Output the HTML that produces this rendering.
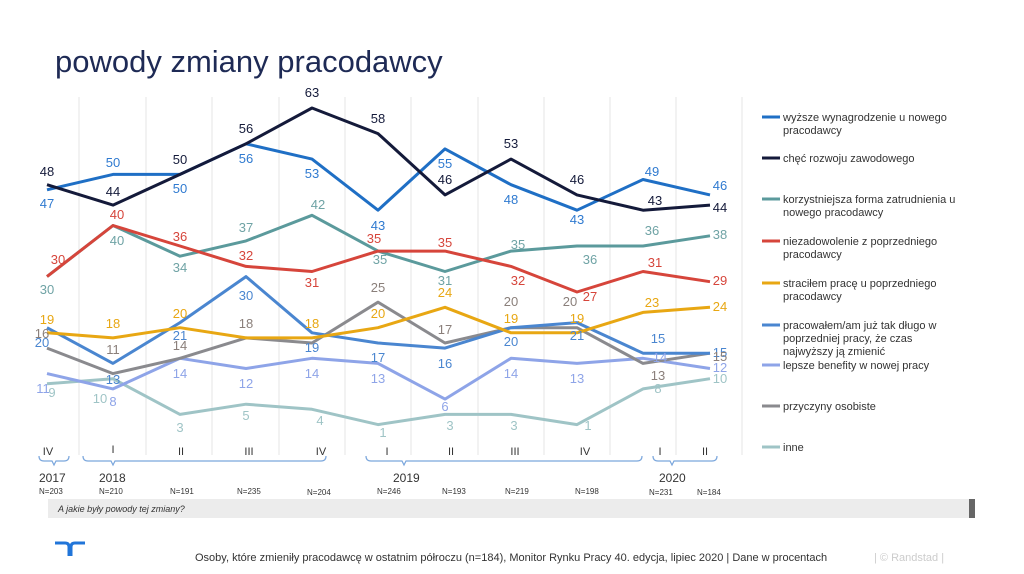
<!DOCTYPE html>
<html><head><meta charset="utf-8"><style>
body{margin:0;background:#fff;}
svg{display:block;font-family:"Liberation Sans",sans-serif;}
</style></head><body>
<svg width="1024" height="574" viewBox="0 0 1024 574">
<text x="55" y="72" font-size="31" fill="#1e2a55">powody zmiany pracodawcy</text>
<g stroke="#e6e6e6" stroke-width="1">
<line x1="79" y1="97" x2="79" y2="455"/><line x1="146" y1="97" x2="146" y2="455"/><line x1="212" y1="97" x2="212" y2="455"/><line x1="279" y1="97" x2="279" y2="455"/><line x1="345" y1="97" x2="345" y2="455"/><line x1="411" y1="97" x2="411" y2="455"/><line x1="478" y1="97" x2="478" y2="455"/><line x1="544" y1="97" x2="544" y2="455"/><line x1="610" y1="97" x2="610" y2="455"/><line x1="676" y1="97" x2="676" y2="455"/><line x1="742" y1="97" x2="742" y2="455"/>
</g>
<g fill="none" stroke-width="3" stroke-linejoin="round">
<polyline stroke="#9fc4c6" points="47,383.8 113,378.7 180,414.4 246,404.2 312,409.3 378,424.6 445,414.4 511,414.4 577,424.6 643,388.9 710,378.7"/>
<polyline stroke="#8ea4e8" points="47,373.6 113,388.9 180,358.3 246,368.5 312,358.3 378,363.4 445,399.1 511,358.3 577,363.4 643,358.3 710,368.5"/>
<polyline stroke="#8a8a8e" points="47,348.1 113,373.6 180,358.3 246,337.9 312,343 378,302.2 445,343 511,327.7 577,327.7 643,363.4 710,353.2"/>
<polyline stroke="#4a86d0" points="47,327.7 113,363.4 180,322.6 246,276.6 312,332.8 378,343 445,348.1 511,327.7 577,322.6 643,353.2 710,353.2"/>
<polyline stroke="#e8a713" points="47,332.8 113,337.9 180,327.7 246,337.9 312,337.9 378,327.7 445,307.3 511,332.8 577,332.8 643,312.4 710,307.3"/>
<polyline stroke="#5b9a9c" points="47,276.6 113,225.5 180,256.2 246,240.9 312,215.3 378,251.1 445,271.5 511,251.1 577,246 643,246 710,235.8"/>
<polyline stroke="#d6453b" points="47,276.6 113,225.5 180,246 246,266.4 312,271.5 378,251.1 445,251.1 511,266.4 577,292 643,271.5 710,281.7"/>
<polyline stroke="#1f6fc5" points="47,189.8 113,174.4 180,174.4 246,143.8 312,159.1 378,210.2 445,148.9 511,184.7 577,210.2 643,179.5 710,194.9"/>
<polyline stroke="#141a3a" points="47,184.7 113,205.1 180,174.4 246,143.8 312,108 378,133.6 445,194.9 511,159.1 577,194.9 643,210.2 710,205.1"/>
</g>
<g font-size="13" text-anchor="middle">
<g fill="#2f7ad0"><text x="47" y="208">47</text><text x="113" y="167">50</text><text x="180" y="193">50</text><text x="246" y="163">56</text><text x="312" y="178">53</text><text x="378" y="230">43</text><text x="445" y="168">55</text><text x="511" y="204">48</text><text x="577" y="224">43</text><text x="652" y="176">49</text><text x="720" y="190">46</text></g>
<g fill="#141a3a"><text x="47" y="176">48</text><text x="113" y="196">44</text><text x="180" y="164">50</text><text x="246" y="133">56</text><text x="312" y="97">63</text><text x="378" y="123">58</text><text x="445" y="184">46</text><text x="511" y="148">53</text><text x="577" y="184">46</text><text x="655" y="205">43</text><text x="720" y="212">44</text></g>
<g fill="#6fa3a5"><text x="47" y="294">30</text><text x="117" y="245">40</text><text x="180" y="272">34</text><text x="246" y="232">37</text><text x="318" y="209">42</text><text x="380" y="264">35</text><text x="445" y="285">31</text><text x="518" y="249">35</text><text x="590" y="264">36</text><text x="652" y="235">36</text><text x="720" y="239">38</text></g>
<g fill="#d6453b"><text x="58" y="264">30</text><text x="117" y="219">40</text><text x="180" y="241">36</text><text x="246" y="260">32</text><text x="312" y="287">31</text><text x="374" y="243">35</text><text x="445" y="247">35</text><text x="518" y="285">32</text><text x="590" y="301">27</text><text x="655" y="267">31</text><text x="720" y="285">29</text></g>
<g fill="#e8a713"><text x="47" y="324">19</text><text x="113" y="328">18</text><text x="180" y="318">20</text><text x="312" y="328">18</text><text x="378" y="318">20</text><text x="445" y="297">24</text><text x="511" y="323">19</text><text x="577" y="323">19</text><text x="652" y="307">23</text><text x="720" y="311">24</text></g>
<g fill="#4a86d0"><text x="42" y="347">20</text><text x="113" y="384">13</text><text x="180" y="340">21</text><text x="246" y="300">30</text><text x="312" y="352">19</text><text x="378" y="362">17</text><text x="445" y="368">16</text><text x="511" y="346">20</text><text x="577" y="340">21</text><text x="658" y="343">15</text><text x="720" y="357">15</text></g>
<g fill="#8a7f7a"><text x="42" y="338">16</text><text x="113" y="354">11</text><text x="180" y="350">14</text><text x="246" y="328">18</text><text x="378" y="292">25</text><text x="445" y="334">17</text><text x="511" y="306">20</text><text x="570" y="306">20</text><text x="658" y="380">13</text><text x="720" y="361">15</text></g>
<g fill="#8ea4e8"><text x="43" y="393">11</text><text x="113" y="406">8</text><text x="180" y="378">14</text><text x="246" y="388">12</text><text x="312" y="378">14</text><text x="378" y="383">13</text><text x="445" y="411">6</text><text x="511" y="378">14</text><text x="577" y="383">13</text><text x="660" y="362">14</text><text x="720" y="372">12</text></g>
<g fill="#9fc4c6"><text x="52" y="397">9</text><text x="100" y="403">10</text><text x="180" y="432">3</text><text x="246" y="420">5</text><text x="320" y="425">4</text><text x="383" y="437">1</text><text x="450" y="430">3</text><text x="514" y="430">3</text><text x="588" y="430">1</text><text x="658" y="393">8</text><text x="720" y="383">10</text></g>
</g>
<g font-size="11" fill="#333">
<line x1="762" y1="117" x2="780" y2="117" stroke="#1f6fc5" stroke-width="3"/><text x="783" y="121">wyższe wynagrodzenie u nowego</text><text x="783" y="134">pracodawcy</text>
<line x1="762" y1="158" x2="780" y2="158" stroke="#141a3a" stroke-width="3"/><text x="783" y="162">chęć rozwoju zawodowego</text>
<line x1="762" y1="199" x2="780" y2="199" stroke="#5b9a9c" stroke-width="3"/><text x="783" y="203">korzystniejsza forma zatrudnienia u</text><text x="783" y="216">nowego pracodawcy</text>
<line x1="762" y1="241" x2="780" y2="241" stroke="#d6453b" stroke-width="3"/><text x="783" y="245">niezadowolenie z poprzedniego</text><text x="783" y="258">pracodawcy</text>
<line x1="762" y1="283" x2="780" y2="283" stroke="#e8a713" stroke-width="3"/><text x="783" y="287">straciłem pracę u poprzedniego</text><text x="783" y="300">pracodawcy</text>
<line x1="762" y1="325" x2="780" y2="325" stroke="#4a86d0" stroke-width="3"/><text x="783" y="329">pracowałem/am już tak długo w</text><text x="783" y="342">poprzedniej pracy, że czas</text><text x="783" y="355">najwyższy ją zmienić</text>
<line x1="762" y1="365" x2="780" y2="365" stroke="#8ea4e8" stroke-width="3"/><text x="783" y="369">lepsze benefity w nowej pracy</text>
<line x1="762" y1="406" x2="780" y2="406" stroke="#8a8a8e" stroke-width="3"/><text x="783" y="410">przyczyny osobiste</text>
<line x1="762" y1="447" x2="780" y2="447" stroke="#9fc4c6" stroke-width="3"/><text x="783" y="451">inne</text>
</g>
<g font-size="11" fill="#333" text-anchor="middle">
<text x="48" y="455">IV</text><text x="113" y="453">I</text><text x="181" y="455">II</text><text x="249" y="455">III</text><text x="321" y="455">IV</text><text x="387" y="455">I</text><text x="451" y="455">II</text><text x="515" y="455">III</text><text x="585" y="455">IV</text><text x="660" y="455">I</text><text x="705" y="455">II</text>
</g>
<g fill="none" stroke="#7aa6dc" stroke-width="1.2">
<path d="M39,456 q0,5 5,5 h8 l2,4 l2,-4 h8 q5,0 5,-5"/>
<path d="M83,456 q0,5 5,5 h23 l2,4 l2,-4 h206 q5,0 5,-5"/>
<path d="M366,456 q0,5 5,5 h31 l2,4 l2,-4 h231 q5,0 5,-5"/>
<path d="M653,456 q0,5 5,5 h12 l2,4 l2,-4 h38 q5,0 5,-5"/>
</g>
<g font-size="12" fill="#333">
<text x="39" y="482">2017</text><text x="99" y="482">2018</text><text x="393" y="482">2019</text><text x="659" y="482">2020</text>
</g>
<g font-size="8" fill="#333">
<text x="39" y="494">N=203</text><text x="99" y="494">N=210</text><text x="170" y="494">N=191</text><text x="237" y="494">N=235</text><text x="307" y="495">N=204</text><text x="377" y="494">N=246</text><text x="442" y="494">N=193</text><text x="505" y="494">N=219</text><text x="575" y="494">N=198</text><text x="649" y="495">N=231</text><text x="697" y="495">N=184</text>
</g>
<rect x="48" y="499" width="927" height="19" fill="#ececec"/>
<rect x="969" y="499" width="6" height="19" fill="#666"/>
<text x="58" y="512" font-size="9" font-style="italic" fill="#333">A jakie były powody tej zmiany?</text>
<path d="M55,543 h10 q4,0 4,4 v9 M85,543 h-10 q-4,0 -4,4 v9" fill="none" stroke="#2175d9" stroke-width="3"/>
<text x="195" y="561" font-size="11" fill="#333">Osoby, które zmieniły pracodawcę w ostatnim półroczu (n=184), Monitor Rynku Pracy 40. edycja, lipiec 2020 | Dane w procentach</text>
<text x="874" y="561" font-size="11" fill="#ccc">| © Randstad |</text>
</svg>
</body></html>
